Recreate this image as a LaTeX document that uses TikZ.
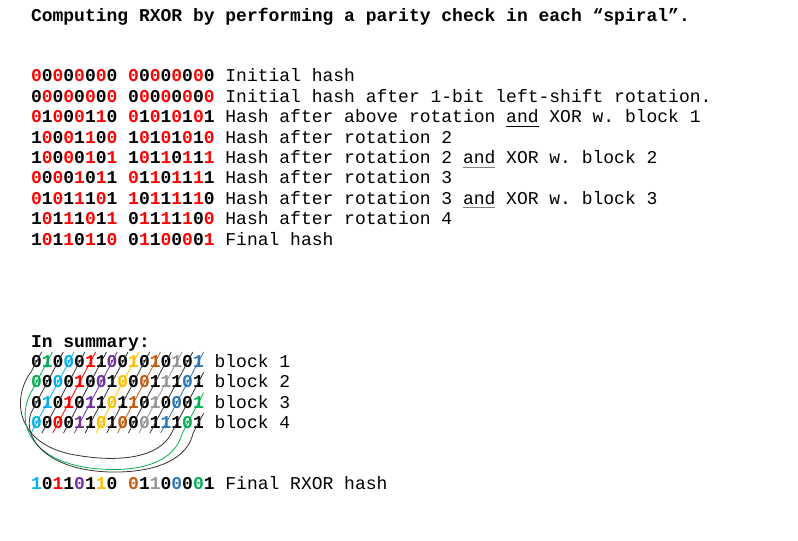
\documentclass[tikz,border=0pt]{standalone}
\usepackage{fontspec}
\setmainfont{Liberation Mono}
\definecolor{hred}{HTML}{FF0000}
\definecolor{cA}{HTML}{00B050}
\definecolor{cB}{HTML}{00B0F0}
\definecolor{cC}{HTML}{FF0000}
\definecolor{cD}{HTML}{7030A0}
\definecolor{cE}{HTML}{FFC000}
\definecolor{cF}{HTML}{C55A11}
\definecolor{cG}{HTML}{969696}
\definecolor{cH}{HTML}{2E75B6}
\definecolor{lk}{HTML}{333333}
\newcommand{\rd}[1]{\textcolor{hred}{#1}}
\newcommand{\kA}[1]{\textcolor{cA}{#1}}
\newcommand{\kB}[1]{\textcolor{cB}{#1}}
\newcommand{\kC}[1]{\textcolor{cC}{#1}}
\newcommand{\kD}[1]{\textcolor{cD}{#1}}
\newcommand{\kE}[1]{\textcolor{cE}{#1}}
\newcommand{\kF}[1]{\textcolor{cF}{#1}}
\newcommand{\kG}[1]{\textcolor{cG}{#1}}
\newcommand{\kH}[1]{\textcolor{cH}{#1}}
\begin{document}
\begin{tikzpicture}[x=0.75pt,y=-0.75pt,
  txt/.style={anchor=base west,inner sep=0pt,outer sep=0pt,
    font=\fontsize{13.5}{16}\selectfont\frenchspacing},
  uline/.style={line width=0.8pt},
  spl/.style={line width=0.6pt}]
\useasboundingbox (0,0) rectangle (798,541);
\begin{scope}[shift={(0,2)}]
\node[txt] (title) at (31,20) {\textbf{Computing RXOR by performing a parity check in each “spiral”.}};
\node[txt] (l1) at (31,80)    {\textbf{\rd{0}0\rd{0}0\rd{0}0\rd{0}0 \rd{0}0\rd{0}0\rd{0}0\rd{0}0} Initial hash};
\node[txt] (l2) at (31,100.4) {\textbf{0\rd{0}0\rd{0}0\rd{0}0\rd{0} 0\rd{0}0\rd{0}0\rd{0}0\rd{0}} Initial hash after 1-bit left-shift rotation.};
\node[txt] (l3) at (31,120.8) {\textbf{\rd{0}1\rd{0}0\rd{0}1\rd{1}0 \rd{0}1\rd{0}1\rd{0}1\rd{0}1} Hash after above rotation and XOR w. block 1};
\node[txt] (l4) at (31,141.2) {\textbf{1\rd{0}0\rd{0}1\rd{1}0\rd{0} 1\rd{0}1\rd{0}1\rd{0}1\rd{0}} Hash after rotation 2};
\node[txt] (l5) at (31,161.6) {\textbf{1\rd{0}0\rd{0}0\rd{1}0\rd{1} 1\rd{0}1\rd{1}0\rd{1}1\rd{1}} Hash after rotation 2 and XOR w. block 2};
\node[txt] (l6) at (31,182)   {\textbf{\rd{0}0\rd{0}0\rd{1}0\rd{1}1 \rd{0}1\rd{1}0\rd{1}1\rd{1}1} Hash after rotation 3};
\node[txt] (l7) at (31,202.4) {\textbf{\rd{0}1\rd{0}1\rd{1}1\rd{0}1 \rd{1}0\rd{1}1\rd{1}1\rd{1}0} Hash after rotation 3 and XOR w. block 3};
\node[txt] (l8) at (31,222.8) {\textbf{1\rd{0}1\rd{1}1\rd{0}1\rd{1} 0\rd{1}1\rd{1}1\rd{1}0\rd{0}} Hash after rotation 4};
\node[txt] (l9) at (31,243.2) {\textbf{1\rd{0}1\rd{1}0\rd{1}1\rd{0} 0\rd{1}1\rd{0}0\rd{0}0\rd{1}} Final hash};
% underlines of "and"
\draw[uline,black] ({31+10.8*44},124.3) -- ({31+10.8*47},124.3);
\draw[uline,gray] ({31+10.8*40},165.1) -- ({31+10.8*43},165.1);
\draw[uline,gray] ({31+10.8*40},205.9) -- ({31+10.8*43},205.9);
% summary
\node[txt] (summ) at (31,345) {\textbf{In summary:}};
\node[txt] (b1) at (31,365.4) {\textbf{0\kA{1}0\kB{0}0\kC{1}1\kD{0}0\kE{1}0\kF{1}0\kG{1}0\kH{1}} block 1};
\node[txt] (b2) at (31,385.8) {\textbf{\kA{0}0\kB{0}0\kC{1}0\kD{0}1\kE{0}0\kF{0}1\kG{1}1\kH{0}1} block 2};
\node[txt] (b3) at (31,406.2) {\textbf{0\kB{1}0\kC{1}0\kD{1}1\kE{0}1\kF{1}0\kG{1}0\kH{0}0\kA{1}} block 3};
\node[txt] (b4) at (31,426.6) {\textbf{\kB{0}0\kC{0}0\kD{1}1\kE{0}1\kF{0}0\kG{0}1\kH{1}1\kA{0}1} block 4};
\node[txt] (fin) at (31,487.8) {\textbf{\kB{1}0\kC{1}1\kD{0}1\kE{1}0 \kF{0}1\kG{1}0\kH{0}0\kA{0}1} Final RXOR hash};
% straight spiral lines
\foreach \j/\c in {3/cB,4/lk,5/cC,6/lk,7/cD,8/lk,9/cE,10/lk,11/cF,12/lk,13/cG,14/lk,15/cH}{
  \draw[spl,draw=\c] ({36.4+10.8*\j+5.29},349.9) -- ({36.4+10.8*(\j-3)-5.29},431.1);
}
% wrapping spirals
\coordinate (w0a) at ({36.4+5.29},349.9);
\coordinate (w0b) at ({36.4-5.29},369.9);
\coordinate (w0c) at ({36.4+10.8*15+5.29},370.3);
\coordinate (w0d) at ({36.4+10.8*13-5.29},431.1);
\draw[spl,draw=lk] (w0a) -- (w0b);
\draw[spl,draw=lk] (w0c) -- (w0d);
\draw[spl,draw=lk] (w0b) .. controls (12,395) and (15,440) .. (70,452) .. controls (120,462) and (160,455) .. (w0d);
\coordinate (w1a) at ({36.4+10.8+5.29},349.9);
\coordinate (w1b) at ({36.4-5.29},390.3);
\coordinate (w1c) at ({36.4+10.8*15+5.29},390.7);
\coordinate (w1d) at ({36.4+10.8*14-5.29},431.1);
\draw[spl,draw=cA] (w1a) -- (w1b);
\draw[spl,draw=cA] (w1c) -- (w1d);
\draw[spl,draw=cA] (w1b) .. controls (15,420) and (30,458) .. (90,466) .. controls (140,472) and (175,460) .. (w1d);
\coordinate (w2a) at ({36.4+10.8*2+5.29},349.9);
\coordinate (w2b) at ({36.4-5.29},410.7);
\coordinate (w2c) at ({36.4+10.8*15+5.29},411.1);
\coordinate (w2d) at ({36.4+10.8*15-5.29},431.1);
\draw[spl,draw=lk] (w2a) -- (w2b);
\draw[spl,draw=lk] (w2c) -- (w2d);
\draw[spl,draw=lk] (w2b) .. controls (22,435) and (45,468) .. (110,470) .. controls (160,471) and (188,455) .. (w2d);
\end{scope}
\end{tikzpicture}
\end{document}
